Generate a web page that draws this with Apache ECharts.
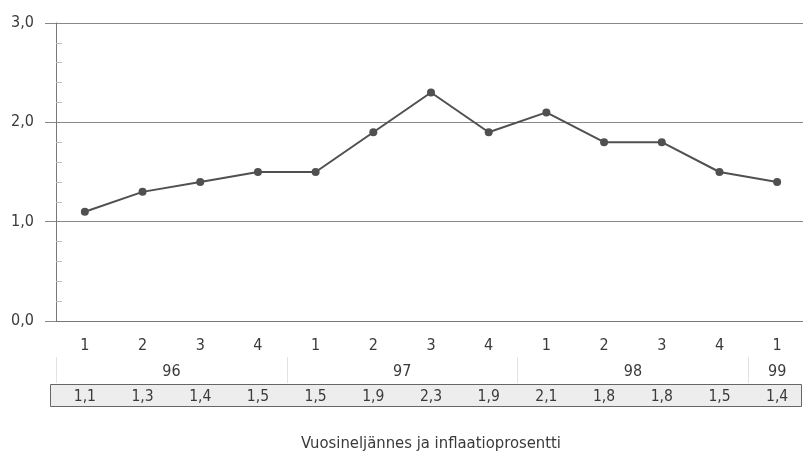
<!DOCTYPE html>
<html>
<head>
<meta charset="utf-8">
<script src="https://cdn.jsdelivr.net/npm/echarts@6/dist/echarts.min.js"></script>
<style>html,body{margin:0;padding:0;background:#fff}#c{width:803px;height:452px}</style>
</head>
<body>
<div id="c"></div>
<script>
var quarters = ['1','2','3','4','1','2','3','4','1','2','3','4','1'];
var inflation = [1.1, 1.3, 1.4, 1.5, 1.5, 1.9, 2.3, 1.9, 2.1, 1.8, 1.8, 1.5, 1.4];
var yearLabels = ['96','97','98','99'];
var yearStart = [0, 4, 8, 12];
var yearSpan = [4, 4, 4, 1];
var axisTitle = 'Vuosineljännes ja inflaatioprosentti';

var FONT = "'DejaVu Sans Condensed', 'Liberation Sans Narrow', 'DejaVu Sans', sans-serif";
var TXT = '#3a3a3a';
function fi(v){ return v.toFixed(1).replace('.', ','); }

var yearCenters = yearStart.map(function(s, i){ return s + yearSpan[i] / 2; });
var yearBounds = yearStart.slice();
var valueLabels = inflation.map(fi);

var chart = echarts.init(document.getElementById('c'));
chart.setOption({
  animation: false,
  backgroundColor: '#fff',
  grid: [
    { left: 56, top: 23, width: 750, height: 298, containLabel: false, outerBoundsMode: 'none' },
    { left: 56, top: 331, width: 750, height: 26, containLabel: false, outerBoundsMode: 'none' }
  ],
  graphic: [{
    type: 'rect', z: -10,
    shape: { x: 50.5, y: 384.5, width: 751, height: 22 },
    style: { fill: '#ededed', stroke: '#666', lineWidth: 1 }
  }],
  xAxis: [{
    gridIndex: 0, type: 'category', data: quarters, boundaryGap: true, position: 'bottom',
    axisLine: { show: true, lineStyle: { color: '#777', width: 1 } },
    axisTick: { show: false },
    axisLabel: { color: TXT, fontFamily: FONT, fontSize: 16, margin: 17 },
    name: axisTitle, nameLocation: 'middle', nameGap: 114,
    nameTextStyle: { color: TXT, fontFamily: FONT, fontSize: 16.5 }
  }, {
    gridIndex: 0, type: 'category', data: valueLabels, boundaryGap: true, position: 'bottom', offset: 63,
    axisLine: { show: false }, axisTick: { show: false },
    axisLabel: { color: TXT, fontFamily: FONT, fontSize: 15.5, margin: 5 }
  }, {
    gridIndex: 1, type: 'value', min: 0, max: quarters.length, position: 'bottom',
    axisLine: { show: false },
    splitLine: { show: false },
    axisTick: { show: true, inside: false, customValues: yearBounds, length: 26, lineStyle: { color: '#e2e2e2' } },
    axisLabel: {
      customValues: yearCenters, color: TXT, fontFamily: FONT, fontSize: 16, margin: 7,
      formatter: function(v){ var i = yearCenters.indexOf(v); return i >= 0 ? yearLabels[i] : ''; }
    }
  }],
  yAxis: [{
    gridIndex: 0, type: 'value', min: 0, max: 3, interval: 1,
    axisLine: { show: true, lineStyle: { color: '#777', width: 1 } },
    axisTick: { show: true, length: 11, lineStyle: { color: '#888' } },
    splitLine: { show: true, lineStyle: { color: '#888', width: 1 } },
    axisLabel: { color: TXT, fontFamily: FONT, fontSize: 16, margin: 22, formatter: fi }
  }, {
    gridIndex: 0, type: 'value', min: 0, max: 3, interval: 1, position: 'left',
    axisLine: { show: false },
    axisTick: { show: false, inside: true },
    minorTick: { show: true, splitNumber: 5, length: 6, lineStyle: { color: '#bbb' } },
    splitLine: { show: false },
    axisLabel: { show: false }
  }, {
    gridIndex: 1, type: 'value', min: 0, max: 1, show: false
  }],
  series: [{
    type: 'line', data: inflation, xAxisIndex: 0, yAxisIndex: 0,
    symbol: 'circle', symbolSize: 8,
    lineStyle: { color: '#505050', width: 2 },
    itemStyle: { color: '#505050' }
  }]
});
</script>
</body>
</html>
